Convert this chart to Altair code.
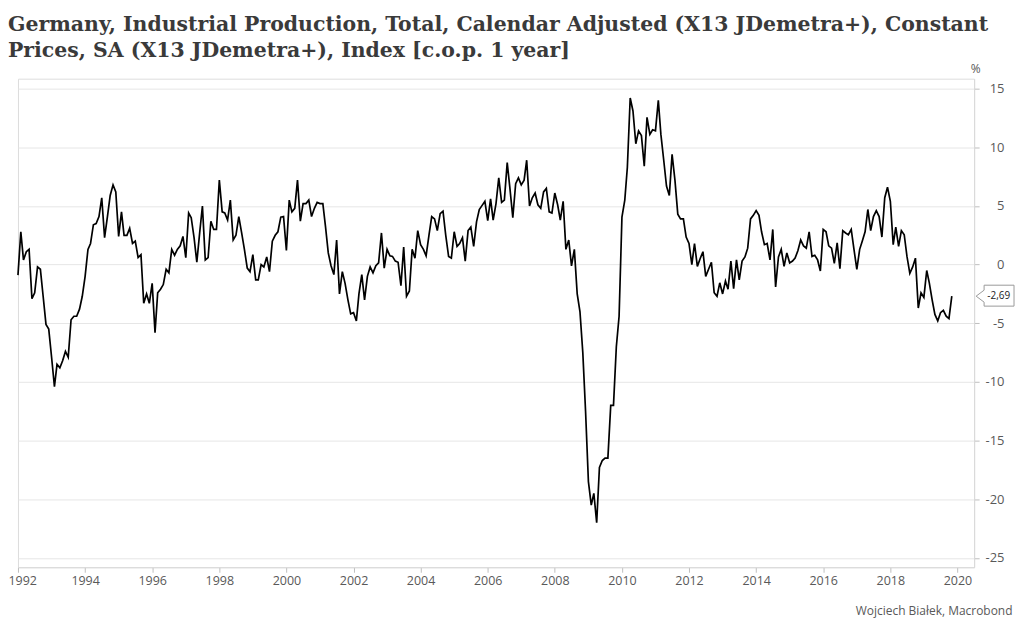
import altair as alt
import pandas as pd

# Monthly values (% y/y), Jan 1992 .. Nov 2019
v1992 = [-0.9, 2.8, 0.4, 1.1, 1.3, -2.9, -2.4, -0.2, -0.4, -2.7, -5.1, -5.5]
v1993 = [-7.9, -10.4, -8.5, -8.8, -8.2, -7.4, -7.9, -4.7, -4.4, -4.4, -3.8, -2.7]
v1994 = [-1.0, 1.3, 1.8, 3.4, 3.5, 4.1, 5.7, 2.3, 4.1, 5.9, 6.8, 6.2]
v1995 = [2.4, 4.5, 2.5, 2.5, 3.1, 1.8, 2.0, 0.6, 0.85, -3.3, -2.5, -3.3]
v1996 = [-1.6, -5.8, -2.4, -2.1, -1.7, -0.4, -0.7, 1.3, 0.8, 1.3, 1.6, 2.4]
v1997 = [0.6, 4.4, 4.0, 2.3, 0.2, 2.7, 5.0, 0.4, 0.6, 3.7, 3.0, 3.0]
v1998 = [7.2, 4.5, 4.4, 3.8, 5.5, 2.1, 2.5, 4.1, 2.7, 1.3, -0.3, -0.6]
v1999 = [0.85, -1.3, -1.3, 0.0, -0.2, 0.65, -0.6, 2.0, 2.5, 2.8, 4.05, 4.1]
v2000 = [1.2, 5.5, 4.5, 4.8, 7.2, 3.7, 5.2, 5.2, 5.5, 4.1, 4.8, 5.3]
v2001 = [5.2, 5.2, 3.3, 1.0, -0.1, -0.85, 2.1, -2.5, -0.6, -1.6, -3.0, -4.2]
v2002 = [-4.1, -4.8, -2.5, -0.85, -3.0, -1.0, -0.2, -0.7, -0.1, 0.15, 2.7, -0.3]
v2003 = [1.3, 0.75, 0.7, 0.3, 0.2, -1.8, 1.5, -2.7, -2.25, 1.3, 0.55, 2.9]
v2004 = [1.7, 1.3, 0.75, 2.5, 4.1, 3.9, 2.9, 4.35, 4.55, 2.5, 0.7, 0.55]
v2005 = [2.8, 1.55, 1.8, 2.3, 0.3, 2.9, 3.2, 1.55, 3.65, 4.7, 5.05, 5.4]
v2006 = [3.75, 5.6, 3.8, 5.2, 7.4, 5.3, 5.5, 8.7, 6.4, 4.0, 6.9, 7.4]
v2007 = [6.8, 7.2, 8.9, 5.0, 5.7, 6.1, 5.1, 4.8, 6.2, 6.5, 4.5, 4.4]
v2008 = [6.1, 5.1, 3.8, 5.4, 1.3, 2.1, -0.1, 1.3, -2.5, -4.0, -7.5, -12.5]
v2009 = [-18.5, -20.5, -19.5, -22.0, -17.3, -16.7, -16.5, -16.5, -12.0, -12.0, -7.0, -4.4]
v2010 = [4.05, 5.5, 8.3, 14.2, 13.1, 10.3, 11.4, 11.0, 8.4, 12.55, 11.1, 11.5]
v2011 = [11.4, 14.0, 11.1, 8.9, 6.7, 5.9, 9.4, 7.2, 4.3, 3.9, 3.9, 2.35]
v2012 = [1.8, 0.0, 1.8, -0.15, 0.5, 1.1, -1.0, -0.4, 0.2, -2.4, -2.7, -1.55]
v2013 = [-2.5, -1.4, -2.1, 0.3, -2.05, 0.4, -1.3, 0.3, 0.65, 1.4, 3.9, 4.2]
v2014 = [4.6, 4.2, 2.8, 1.7, 1.8, 0.4, 3.0, -1.9, 0.65, 1.3, -0.15, 1.0]
v2015 = [0.15, 0.3, 0.55, 1.2, 2.1, 1.6, 1.4, 2.8, 0.7, 0.8, 0.4, -0.55]
v2016 = [3.0, 2.8, 1.6, 1.4, 0.1, 1.85, -0.35, 2.9, 2.7, 2.55, 3.0, 1.3]
v2017 = [-0.4, 1.3, 2.0, 2.8, 4.7, 2.9, 4.1, 4.6, 4.1, 2.35, 5.7, 6.6]
v2018 = [5.4, 1.7, 3.2, 1.55, 2.9, 2.55, 0.7, -0.75, -0.2, 0.55, -3.7, -2.4]
v2019 = [-2.8, -0.5, -1.55, -3.0, -4.25, -4.8, -4.1, -3.9, -4.4, -4.6, -2.69]

values = (v1992 + v1993 + v1994 + v1995 + v1996 + v1997 + v1998 + v1999 +
          v2000 + v2001 + v2002 + v2003 + v2004 + v2005 + v2006 + v2007 +
          v2008 + v2009 + v2010 + v2011 + v2012 + v2013 + v2014 + v2015 +
          v2016 + v2017 + v2018 + v2019)

tick_years = list(range(1992, 2021, 2))
y_ticks = [-25, -20, -15, -10, -5, 0, 5, 10, 15]

title_lines = [
    "Germany, Industrial Production, Total, Calendar Adjusted (X13 JDemetra+), Constant",
    "Prices, SA (X13 JDemetra+), Index [c.o.p. 1 year]",
]
source_text = "Wojciech Białek, Macrobond"

dates = pd.date_range("1992-01-01", periods=len(values), freq="MS").strftime("%Y-%m-%d")
df = pd.DataFrame({"date": dates, "value": values})
last_df = df.tail(1)

SANS = "Open Sans"
GREY = "#595959"

x_enc = alt.X(
    "date:T",
    scale=alt.Scale(
        domain=[alt.DateTime(year=1992, month=1, date=1), alt.DateTime(year=2020, month=7, date=1)],
        nice=False,
    ),
    axis=alt.Axis(
        values=[alt.DateTime(year=y, month=1, date=1) for y in tick_years],
        format="%Y",
        grid=False,
        domain=True,
        domainColor="#d9d9d9",
        ticks=True,
        tickColor="#bfbfbf",
        tickSize=5,
        labelFont=SANS,
        labelFontSize=12.5,
        labelColor=GREY,
        labelPadding=2,
        labelFlush=1,
        labelFlushOffset=10,
        title=source_text,
        titleFont=SANS,
        titleFontSize=12,
        titleFontWeight="normal",
        titleColor=GREY,
        titleAngle=0,
        titleAlign="right",
        titleBaseline="middle",
        titleX=997,
        titleY=43,
    ),
)

y_enc = alt.Y(
    "value:Q",
    scale=alt.Scale(domain=[-25.8, 15.85], nice=False, zero=False),
    axis=alt.Axis(
        orient="right",
        values=y_ticks,
        labelExpr="(datum.value < 0 ? '-' : '') + abs(datum.value)",
        grid=True,
        gridColor="#e6e6e6",
        gridWidth=1,
        domain=True,
        domainColor="#d9d9d9",
        ticks=True,
        tickColor="#bfbfbf",
        tickSize=5,
        labelFont=SANS,
        labelFontSize=13,
        labelColor=GREY,
        labelAlign="right",
        labelBaseline="middle",
        labelPadding=25,
        title="%",
        titleFont=SANS,
        titleFontSize=12,
        titleFontWeight="normal",
        titleColor=GREY,
        titleAngle=0,
        titleAlign="center",
        titleBaseline="middle",
        titleX=1,
        titleY=-10,
    ),
)

line = alt.Chart(df).mark_line(color="#000000", strokeWidth=1.7).encode(x=x_enc, y=y_enc)

callout_shape = "M2.44,0 L3.24,-0.6 L3.24,-1.1 L6.24,-1.1 L6.24,1.0 L3.24,1.0 L3.24,0.6 Z"
callout = alt.Chart(last_df).mark_point(
    shape=callout_shape, size=400, fill="white", fillOpacity=1,
    stroke="#9a9a9a", strokeWidth=1, strokeOpacity=1, opacity=1,
).encode(x="date:T", y="value:Q")

callout_text = alt.Chart(last_df).transform_calculate(
    label="(datum.value < 0 ? '-' : '') + replace(format(abs(datum.value), '.2f'), '.', ',')"
).mark_text(
    dx=47, align="center", baseline="middle", fontSize=10, font=SANS, color="#222222"
).encode(x="date:T", y="value:Q", text="label:N")

chart = alt.layer(line, callout, callout_text).properties(
    width=959,
    height=490,
    autosize=alt.AutoSizeParams(type="none"),
    padding={"left": 10, "top": 70, "right": 42, "bottom": 50},
    title=alt.TitleParams(
        text=title_lines,
        anchor="start",
        frame="group",
        font="DejaVu Serif",
        fontSize=20.5,
        fontWeight="bold",
        color="#3a3a3a",
        lineHeight=26,
        baseline="alphabetic",
        dx=-10,
        dy=48,
        offset=33,
    ),
).configure_view(stroke=None).configure(background="white")

chart.save("out.html", embed_options={"renderer": "svg", "actions": False})
